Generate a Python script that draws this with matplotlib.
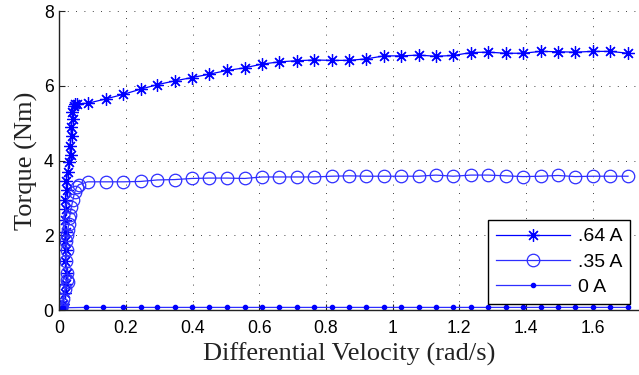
import matplotlib
matplotlib.use("Agg")
import matplotlib.pyplot as plt

## Torque vs differential velocity for three coil currents.
## Steep start-up part first, then the steady part at ~0.052 rad/s steps.
x_64 = [0.000, 0.010, 0.016, 0.020, 0.022, 0.018, 0.020, 0.016, 0.019, 0.017,
        0.021, 0.018, 0.023, 0.020, 0.026, 0.030, 0.034, 0.031, 0.037, 0.034,
        0.040, 0.038, 0.044, 0.048, 0.052,
        0.085, 0.140, 0.192, 0.244, 0.294, 0.346, 0.398, 0.450, 0.503, 0.556,
        0.608, 0.660, 0.712, 0.764, 0.817, 0.869, 0.921, 0.974, 1.026, 1.078,
        1.130, 1.182, 1.235, 1.287, 1.339, 1.391, 1.444, 1.496, 1.548, 1.601,
        1.653, 1.706]
t_64 = [0.00, 0.15, 0.45, 0.70, 1.00, 1.30, 1.60, 1.85, 2.10, 2.40,
        2.70, 2.95, 3.20, 3.45, 3.70, 3.95, 4.15, 4.40, 4.65, 4.90,
        5.10, 5.30, 5.45, 5.50, 5.52,
        5.53, 5.65, 5.77, 5.91, 6.03, 6.13, 6.22, 6.31, 6.41, 6.48,
        6.58, 6.64, 6.67, 6.69, 6.68, 6.68, 6.72, 6.80, 6.80, 6.82,
        6.79, 6.81, 6.89, 6.90, 6.87, 6.87, 6.92, 6.91, 6.90, 6.92,
        6.92, 6.87]

x_35 = [0.000, 0.003, 0.006, 0.004, 0.008, 0.012, 0.018, 0.022, 0.027, 0.024,
        0.020, 0.022, 0.020, 0.024, 0.026, 0.028, 0.030, 0.032, 0.036, 0.041,
        0.046, 0.052, 0.058,
        0.085, 0.140, 0.192, 0.244, 0.294, 0.346, 0.398, 0.450, 0.503, 0.556,
        0.608, 0.660, 0.712, 0.764, 0.817, 0.869, 0.921, 0.974, 1.026, 1.078,
        1.130, 1.182, 1.235, 1.287, 1.339, 1.391, 1.444, 1.496, 1.548, 1.601,
        1.653, 1.706]
t_35 = [0.00, 0.05, 0.10, 0.02, 0.15, 0.30, 0.55, 0.80, 0.75, 1.00,
        1.30, 1.60, 1.85, 2.00, 2.15, 2.30, 2.45, 2.55, 2.75, 2.95,
        3.15, 3.28, 3.35,
        3.43, 3.43, 3.43, 3.44, 3.48, 3.49, 3.52, 3.53, 3.53, 3.52,
        3.56, 3.56, 3.56, 3.56, 3.58, 3.59, 3.58, 3.58, 3.58, 3.58,
        3.61, 3.58, 3.61, 3.61, 3.59, 3.57, 3.58, 3.60, 3.57, 3.58,
        3.58, 3.58]

x_0 = [0.000, 0.002, 0.004, 0.006, 0.008, 0.010,
       0.080, 0.132, 0.192, 0.244, 0.294, 0.346, 0.398, 0.450, 0.503, 0.556,
       0.608, 0.660, 0.712, 0.764, 0.817, 0.869, 0.921, 0.974, 1.026, 1.078,
       1.130, 1.182, 1.235, 1.287, 1.339, 1.391, 1.444, 1.496, 1.548, 1.601,
       1.653, 1.706]
t_0 = [0.00, 0.02, 0.01, 0.03, 0.05, 0.06,
       0.07, 0.07, 0.07, 0.07, 0.07, 0.07, 0.07, 0.07, 0.07, 0.07,
       0.07, 0.07, 0.07, 0.07, 0.07, 0.07, 0.07, 0.07, 0.07, 0.07,
       0.07, 0.07, 0.07, 0.07, 0.07, 0.07, 0.07, 0.07, 0.07, 0.07,
       0.07, 0.07]

labels = [".64 A", ".35 A", "0 A"]

fig = plt.figure(figsize=(6.39, 3.75), dpi=100)
ax = fig.add_axes([0.0928, 0.1733, 0.9072, 0.7973])

# asterisk drawn as 8 thin arms, like + and x on top of each other
ax.plot(x_64, t_64, color="#0000ff", lw=0.9, marker=(8, 2, 0), ms=9,
        mfc="none", mec="#0000ff", mew=0.9, label=labels[0])
ax.plot(x_35, t_35, color="#2e2eff", lw=0.9, marker="o", ms=9,
        mfc="none", mec="#2e2eff", mew=0.9, label=labels[1])
ax.plot(x_0, t_0, color="#2e2eff", lw=0.9, marker=".", ms=6,
        mfc="#0000ff", mec="#0000ff", label=labels[2])

ax.set_xlim(0, 1.739)
ax.set_ylim(0, 8)
ax.set_xticks([0, 0.2, 0.4, 0.6, 0.8, 1, 1.2, 1.4, 1.6])
ax.set_xticklabels(["0", "0.2", "0.4", "0.6", "0.8", "1", "1.2", "1.4", "1.6"])
ax.set_yticks([0, 2, 4, 6, 8])

ax.grid(True, color="black", linestyle=(0, (1, 9)), linewidth=0.6)
ax.set_axisbelow(True)
for s in ["top", "right"]:
    ax.spines[s].set_visible(False)
for s in ["left", "bottom"]:
    ax.spines[s].set_color("#222222")
    ax.spines[s].set_linewidth(1.0)

ax.tick_params(direction="in", length=4, width=0.8, labelsize=12.7,
               pad=4, colors="#222222", labelcolor="black")
ax.tick_params(axis="x", pad=7)
for lab in ax.get_xticklabels() + ax.get_yticklabels():
    lab.set_family("Liberation Sans")

ax.set_xlabel("Differential Velocity (rad/s)", family="Liberation Serif",
              fontsize=19, color="#222222", labelpad=4)
ax.set_ylabel("Torque (Nm)", family="Liberation Serif",
              fontsize=19, color="#222222", labelpad=4)

leg = ax.legend(loc="lower right", bbox_to_anchor=(0.9845, 0.02),
                borderaxespad=0, fancybox=False, framealpha=1,
                edgecolor="black", handlelength=3.8,
                prop={"family": "Liberation Sans", "size": 14},
                labelspacing=0.4, borderpad=0.4, handletextpad=0.4)
leg.get_frame().set_linewidth(1.0)

fig.savefig("out.png", dpi=100)
